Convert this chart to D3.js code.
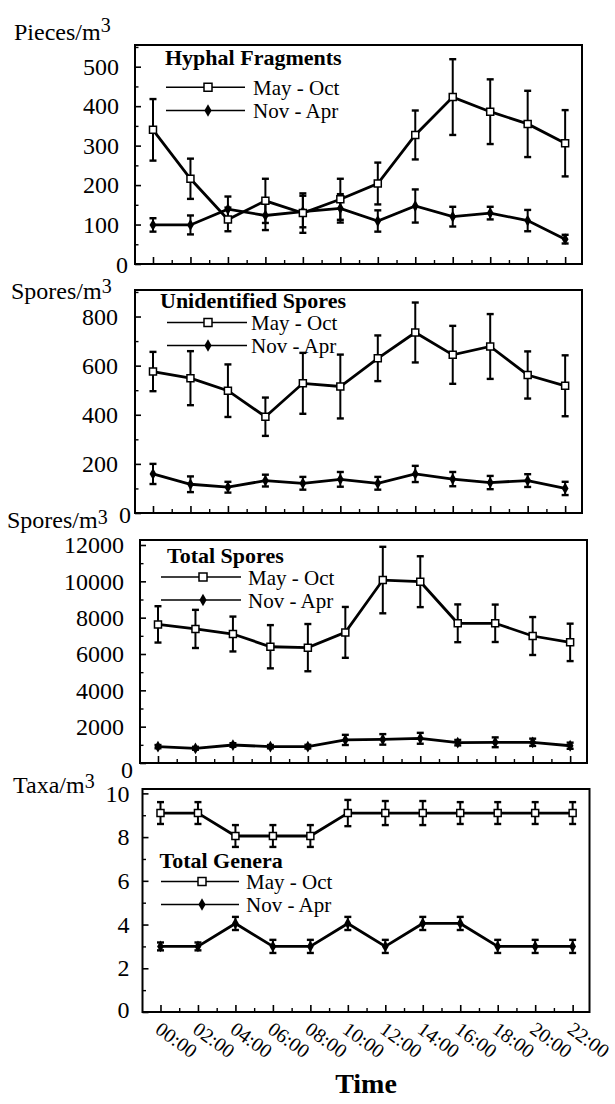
<!DOCTYPE html>
<html><head><meta charset="utf-8">
<script src="https://cdn.jsdelivr.net/npm/d3@7"></script>
<style>
body{margin:0;background:#fff}
svg{display:block}
text{font-family:"Liberation Serif","Times New Roman",serif;fill:#000}
</style>
</head><body>
<svg id="chart" width="615" height="1104"></svg>
<script>
// ---------- DATA ----------
const hours = [0,2,4,6,8,10,12,14,16,18,20,22];
const hourLabels = ["00:00","02:00","04:00","06:00","08:00","10:00","12:00","14:00","16:00","18:00","20:00","22:00"];
const seriesNames = ["May - Oct","Nov - Apr"];
const panelTitles = ["Hyphal Fragments","Unidentified Spores","Total Spores","Total Genera"];
const unitLabels = ["Pieces/m","Spores/m","Spores/m","Taxa/m"];

const hyphalMayOct    = [340,216,113,160,129,164,204,327,423,386,355,306];
const hyphalMayOctErr = [78,51,30,56,50,52,53,62,96,82,84,84];
const hyphalNovApr    = [99,99,139,123,133,141,109,147,120,129,110,63];
const hyphalNovAprErr = [17,24,32,37,40,36,27,42,25,16,27,11];

const unidMayOct    = [576,549,498,392,528,515,630,735,644,678,562,518];
const unidMayOctErr = [80,110,107,78,124,130,93,122,118,132,96,124];
const unidNovApr    = [159,117,105,132,121,137,121,159,138,124,132,100];
const unidNovAprErr = [41,32,22,24,26,30,26,33,29,27,26,27];

const totalMayOct    = [7630,7380,7100,6400,6350,7190,10070,9980,7690,7690,6990,6640];
const totalMayOctErr = [1000,1050,960,1190,1300,1400,1830,1400,1040,1030,1045,1030];
const totalNovApr    = [900,810,990,900,900,1270,1300,1360,1120,1140,1140,950];
const totalNovAprErr = [90,80,100,90,100,280,290,300,150,270,200,170];

const generaMayOct    = [9.1,9.1,8.05,8.05,8.05,9.1,9.1,9.1,9.1,9.1,9.1,9.1];
const generaMayOctErr = [0.5,0.5,0.5,0.5,0.5,0.6,0.55,0.55,0.5,0.5,0.5,0.5];
const generaNovApr    = [3.0,3.0,4.05,3.0,3.0,4.05,3.0,4.05,4.05,3.0,3.0,3.0];
const generaNovAprErr = [0.18,0.18,0.3,0.3,0.3,0.3,0.3,0.3,0.3,0.3,0.3,0.3];

const hyphalTicks = [0,100,200,300,400,500];
const unidTicks   = [0,200,400,600,800];
const totalTicks  = [0,2000,4000,6000,8000,10000,12000];
const generaTicks = [0,2,4,6,8,10];

// ---------- LAYOUT ----------
const W = 447;
const panels = [
  {may:hyphalMayOct, mayErr:hyphalMayOctErr, nov:hyphalNovApr, novErr:hyphalNovAprErr,
   ticks:hyphalTicks, minor:50, yMax:555, left:135, top:45, bottom:264, gap:16,
   zeroDx:9, zeroDy:1, unit:{x:14,y:40,raise:8},
   leg:{tx:165, ty:65, l1:87.3, l2:110.5, lx1:166, lx2:245, mx:208, txt:253}},
  {may:unidMayOct, mayErr:unidMayOctErr, nov:unidNovApr, novErr:unidNovAprErr,
   ticks:unidTicks, minor:100, yMax:908, left:135, top:290, bottom:513, gap:17,
   zeroDx:13, zeroDy:2, unit:{x:11,y:299,raise:6},
   leg:{tx:160, ty:308, l1:322.5, l2:345.5, lx1:167, lx2:247, mx:208, txt:251}},
  {may:totalMayOct, mayErr:totalMayOctErr, nov:totalNovApr, novErr:totalNovAprErr,
   ticks:totalTicks, minor:1000, yMax:12275, left:140, top:540, bottom:763, gap:16,
   zeroDx:9, zeroDy:7, unit:{x:7,y:528,raise:4},
   leg:{tx:167, ty:563, l1:577, l2:600, lx1:161, lx2:241, mx:203, txt:248}},
  {may:generaMayOct, mayErr:generaMayOctErr, nov:generaNovApr, novErr:generaNovAprErr,
   ticks:generaTicks, minor:1, yMax:10.2, left:142.5, top:789, bottom:1012, gap:13,
   zeroDx:0, zeroDy:-2, unit:{x:13,y:793,raise:5},
   leg:{tx:159.5, ty:868, l1:881.5, l2:904.5, lx1:161, lx2:239, mx:202, txt:246}}
];

const svg = d3.select("#chart");
svg.append("rect").attr("width",615).attr("height",1104).attr("fill","#fff");

const squarePath = s => `M${-s/2},${-s/2}h${s}v${s}h${-s}Z`;

panels.forEach((p, pi) => {
  const g = svg.append("g");
  const x = d3.scaleLinear().domain([-0.96, 22.9]).range([p.left, p.left + W]);
  const y = d3.scaleLinear().domain([0, p.yMax]).range([p.bottom, p.top]);

  // y axis major
  const ya = g.append("g").attr("transform", `translate(${p.left},0)`)
    .call(d3.axisLeft(y).tickValues(p.ticks).tickSize(-6).tickPadding(p.gap).tickFormat(d3.format("d")));
  ya.select(".domain").remove();
  ya.selectAll("line").attr("stroke","#000").attr("stroke-width",1.6);
  ya.selectAll("text").attr("font-size",24).attr("font-family","Liberation Serif")
    .filter(d => d === 0).attr("dx", p.zeroDx).attr("y", p.zeroDy);

  // y axis minor
  const minorVals = d3.range(p.minor, p.yMax, p.minor).filter(v => !p.ticks.includes(v));
  const ym = g.append("g").attr("transform", `translate(${p.left},0)`)
    .call(d3.axisLeft(y).tickValues(minorVals).tickSize(-3.5).tickFormat(""));
  ym.select(".domain").remove();
  ym.selectAll("line").attr("stroke","#000").attr("stroke-width",1.4);

  // x axis major
  const xa = g.append("g").attr("transform", `translate(0,${p.bottom})`)
    .call(d3.axisBottom(x).tickValues(hours).tickSize(-7).tickFormat((d,i) => pi === 3 ? hourLabels[i] : ""));
  xa.select(".domain").remove();
  xa.selectAll("line").attr("stroke","#000").attr("stroke-width",1.6);
  xa.selectAll("text").attr("font-size",20).attr("font-family","Liberation Serif")
    .attr("text-anchor","start").attr("y",0).attr("dy",0)
    .attr("transform","translate(-7,20) rotate(36)");

  // x axis minor
  const xm = g.append("g").attr("transform", `translate(0,${p.bottom})`)
    .call(d3.axisBottom(x).tickValues(hours.map(h => h + 1).filter(h => h < 23)).tickSize(-4).tickFormat(""));
  xm.select(".domain").remove();
  xm.selectAll("line").attr("stroke","#000").attr("stroke-width",1.4);

  // frame
  g.append("rect").attr("x", p.left).attr("y", p.top).attr("width", W).attr("height", p.bottom - p.top)
    .attr("fill","none").attr("stroke","#000").attr("stroke-width",2);

  // unit label
  const ut = g.append("text").attr("x", p.unit.x).attr("y", p.unit.y).attr("font-size",24);
  ut.append("tspan").text(unitLabels[pi]);
  ut.append("tspan").attr("font-size",20).attr("dy", -p.unit.raise).text("3");

  const line = d3.line().x(d => x(d.h)).y(d => y(d.v));
  const series = [
    {vals:p.nov, errs:p.novErr, kind:"diamond"},
    {vals:p.may, errs:p.mayErr, kind:"square"}
  ];
  series.forEach(s => {
    const pts = hours.map((h,i) => ({h, v:s.vals[i], e:s.errs[i]}));
    g.append("path").datum(pts).attr("d", line).attr("fill","none")
      .attr("stroke","#000").attr("stroke-width",2.8).attr("stroke-linejoin","miter");
    const eb = g.append("g").attr("stroke","#000").attr("stroke-width",2);
    pts.forEach(d => {
      const cx = x(d.h), y1 = y(d.v + d.e), y2 = y(d.v - d.e);
      eb.append("line").attr("x1",cx).attr("x2",cx).attr("y1",y1).attr("y2",y2);
      eb.append("line").attr("x1",cx-3.5).attr("x2",cx+3.5).attr("y1",y1).attr("y2",y1).attr("stroke-width",2.4);
      eb.append("line").attr("x1",cx-3.5).attr("x2",cx+3.5).attr("y1",y2).attr("y2",y2).attr("stroke-width",2.4);
    });
    s.pts = pts;
  });
  series.forEach(s => {
    s.pts.forEach(d => {
      if (s.kind === "square") {
        g.append("path").attr("d", squarePath(7)).attr("transform", `translate(${x(d.h)},${y(d.v)})`)
          .attr("fill","#fff").attr("stroke","#000").attr("stroke-width",1.5);
      } else {
        g.append("path").attr("d", d3.symbol(d3.symbolDiamond, 40)()).attr("transform", `translate(${x(d.h)},${y(d.v)})`)
          .attr("fill","#000");
      }
    });
  });

  // legend
  const L = p.leg;
  g.append("text").attr("x", L.tx).attr("y", L.ty).attr("font-size",22).attr("font-weight","bold").text(panelTitles[pi]);
  [L.l1, L.l2].forEach((ly, k) => {
    g.append("line").attr("x1", L.lx1).attr("x2", L.lx2).attr("y1", ly).attr("y2", ly)
      .attr("stroke","#000").attr("stroke-width",1.6);
    if (k === 0) {
      g.append("path").attr("d", squarePath(8)).attr("transform", `translate(${L.mx},${ly})`)
        .attr("fill","#fff").attr("stroke","#000").attr("stroke-width",1.5);
    } else {
      g.append("path").attr("d", d3.symbol(d3.symbolDiamond, 45)()).attr("transform", `translate(${L.mx},${ly})`)
        .attr("fill","#000");
    }
    g.append("text").attr("x", L.txt).attr("y", ly + 7.5).attr("font-size",21).text(seriesNames[k]);
  });
});

svg.append("text").attr("x", 366).attr("y", 1093).attr("text-anchor","middle")
  .attr("font-size",28).attr("font-weight","bold").text("Time");
</script>
</body></html>
